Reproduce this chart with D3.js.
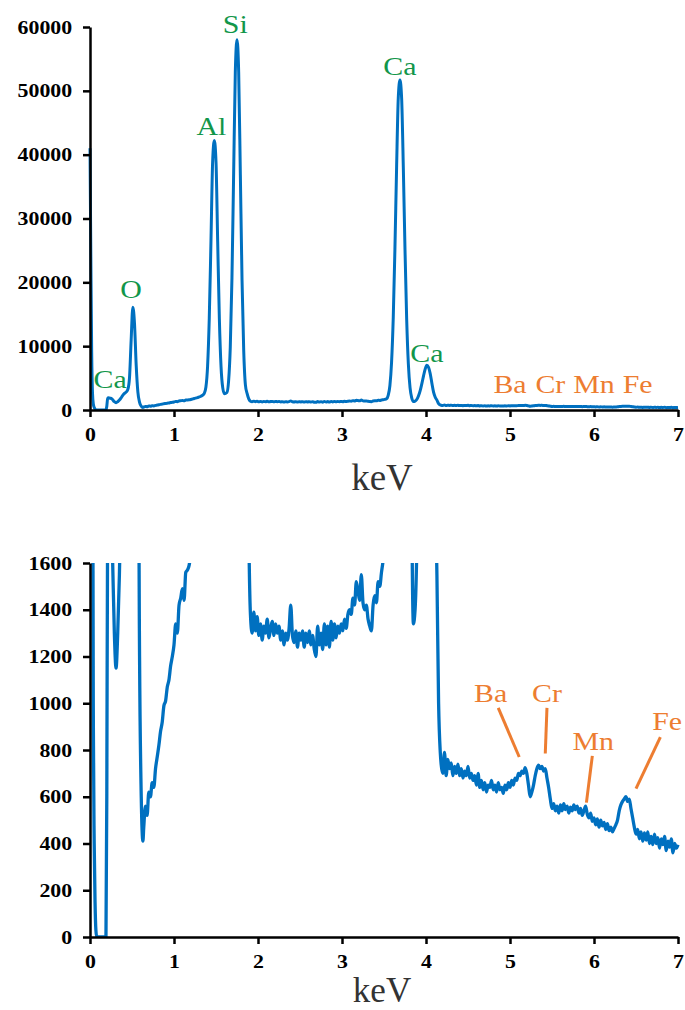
<!DOCTYPE html>
<html>
<head>
<meta charset="utf-8">
<script src="https://cdn.jsdelivr.net/npm/d3@7"></script>
<style>
  body { margin: 0; background: #fff; }
  svg { display: block; }
</style>
</head>
<body>
<div id="chart"></div>
<script>
// EDS spectrum: [keV, counts]
var lowEnergy = [
  [0,41000],[0.01,24000],[0.02,9000],[0.03,2600],[0.04,900],[0.05,400],[0.06,150],[0.07,30],
  [0.08,0],[0.12,0],[0.16,0],[0.19,0],[0.20,600],[0.21,1800],[0.22,1900],[0.24,1850],[0.26,1750],
  [0.27,1600],[0.29,1300],[0.31,1150],[0.33,1300],[0.35,1550],[0.37,1900],[0.39,2300],[0.41,2600],
  [0.43,2800],[0.45,3200],[0.47,5000],[0.49,11000],[0.51,16100],[0.53,13500],[0.55,7000],[0.57,2800],
  [0.59,1200],[0.61,600],[0.63,410],[0.64,470],[0.66,560],[0.68,520],[0.70,620],[0.72,600],
  [0.74,660],[0.76,640],[0.78,720],[0.80,770],[0.82,820],[0.84,880],[0.86,920],[0.88,990],
  [0.90,1010],[0.92,1070],[0.94,1100],[0.96,1160],[0.98,1200],[1.00,1250],[1.02,1340],[1.04,1300],
  [1.06,1420],[1.08,1450],[1.10,1490],[1.12,1440],[1.14,1560],[1.16,1570],[1.18,1590]
];

var alSiPeaks = [
  [1.20,1640],[1.24,1800],[1.28,1950],[1.32,2150],[1.36,2600],[1.38,3600],[1.40,6900],[1.42,14400],
  [1.44,26400],[1.46,38900],[1.48,42200],[1.50,38900],[1.52,26400],[1.54,14300],[1.56,6800],
  [1.58,3500],[1.60,2550],[1.63,2740],[1.65,4550],[1.67,9850],[1.69,20700],[1.71,37000],[1.73,53000],
  [1.75,58000],[1.77,52900],[1.79,36800],[1.81,20300],[1.83,9300],[1.85,3950],[1.87,2600],
  [1.89,1750],[1.91,1380]
];

var midBackground = [
  [1.93,1300],[1.95,1390],[1.97,1310],[1.99,1370],[2.01,1290],[2.03,1340],[2.05,1270],[2.07,1330],
  [2.09,1300],[2.11,1360],[2.13,1280],[2.15,1320],[2.17,1350],[2.19,1290],[2.21,1340],[2.23,1300],
  [2.25,1330],[2.27,1270],[2.29,1310],[2.31,1250],[2.33,1300],[2.35,1270],[2.37,1320],[2.39,1420],
  [2.41,1290],[2.43,1260],[2.45,1310],[2.47,1240],[2.49,1300],[2.51,1270],[2.53,1310],[2.55,1240],
  [2.57,1300],[2.59,1260],[2.61,1310],[2.63,1250],[2.65,1290],[2.67,1230],[2.69,1200],[2.71,1330],
  [2.73,1250],[2.75,1300],[2.77,1230],[2.79,1340],[2.81,1250],[2.83,1330],[2.85,1240],[2.87,1350],
  [2.89,1270],[2.91,1340],[2.93,1280],[2.95,1330],[2.97,1300],[2.99,1340],[3.01,1310],[3.03,1360],
  [3.05,1320],[3.07,1380],[3.09,1400],[3.11,1380],[3.13,1450],[3.15,1420],[3.17,1520],[3.19,1480],
  [3.21,1440],[3.23,1550],[3.25,1430],[3.27,1400],[3.29,1420],[3.31,1360],[3.33,1330],[3.35,1310],
  [3.37,1420],[3.39,1460],[3.41,1430],[3.43,1520],[3.45,1500],[3.47,1560],[3.49,1610]
];

var caPeaks = [
  [3.51,1660],[3.53,1750],[3.55,2300],[3.57,3800],[3.59,7450],[3.61,14400],[3.63,25200],[3.65,38000],
  [3.67,48900],[3.69,51700],[3.71,48800],[3.73,38000],[3.75,25100],[3.77,14200],[3.79,7200],
  [3.81,3500],[3.83,1900],[3.85,1340],[3.87,1400],[3.89,1650],[3.91,2200],[3.93,3000],[3.95,4100],
  [3.97,5300],[3.99,6400],[4.01,7000],[4.03,6700],[4.05,5700],[4.07,4200],[4.09,2800],[4.11,2000],
  [4.13,1550],[4.15,1000],[4.17,790]
];

var highEnergy = [
  [4.18,740],[4.20,700],[4.22,790],[4.24,690],[4.26,760],[4.28,720],[4.30,745],[4.32,690],
  [4.34,730],[4.36,700],[4.38,740],[4.40,690],[4.42,720],[4.44,680],[4.46,710],[4.48,690],
  [4.50,730],[4.52,680],[4.54,700],[4.56,670],[4.58,690],[4.60,650],[4.62,700],[4.64,640],
  [4.66,670],[4.68,630],[4.70,660],[4.72,620],[4.74,650],[4.76,640],[4.78,670],[4.80,630],
  [4.82,650],[4.84,620],[4.86,660],[4.88,630],[4.90,640],[4.92,615],[4.94,650],[4.96,630],
  [4.98,660],[5.00,640],[5.02,670],[5.04,650],[5.06,680],[5.08,670],[5.10,700],[5.12,690],
  [5.14,710],[5.16,700],[5.18,725],[5.20,700],[5.22,650],[5.24,600],[5.26,620],[5.28,650],
  [5.30,690],[5.32,720],[5.34,735],[5.36,720],[5.38,730],[5.40,710],[5.42,720],[5.44,680],
  [5.46,640],[5.48,590],[5.50,550],[5.52,570],[5.54,540],[5.56,560],[5.58,530],[5.60,565],
  [5.62,540],[5.64,570],[5.66,545],[5.68,560],[5.70,530],[5.72,555],[5.74,540],[5.76,565],
  [5.78,545],[5.80,560],[5.82,530],[5.84,550],[5.86,520],[5.88,540],[5.90,560],[5.92,525],
  [5.94,510],[5.96,530],[5.98,495],[6.00,510],[6.02,480],[6.04,505],[6.06,470],[6.08,500],
  [6.10,475],[6.12,490],[6.14,460],[6.16,485],[6.18,455],[6.20,470],[6.22,450],[6.24,465],
  [6.26,480],[6.28,500],[6.30,540],[6.32,565],[6.34,580],[6.36,590],[6.38,600],[6.40,580],
  [6.42,590],[6.44,550],[6.46,510],[6.48,470],[6.50,440],[6.52,460],[6.54,420],[6.56,450],
  [6.58,410],[6.60,445],[6.62,415],[6.64,450],[6.66,400],[6.68,430],[6.70,395],[6.72,440],
  [6.74,400],[6.76,425],[6.78,380],[6.80,420],[6.82,395],[6.84,430],[6.86,370],[6.88,410],
  [6.90,385],[6.92,420],[6.94,360],[6.96,400],[6.98,380],[7.00,395]
];

var spectrum = lowEnergy.concat(alSiPeaks, midBackground, caPeaks, highEnergy);

var xTicks = [0, 1, 2, 3, 4, 5, 6, 7];
var yTicksFull = [0, 10000, 20000, 30000, 40000, 50000, 60000];
var yTicksZoom = [0, 200, 400, 600, 800, 1000, 1200, 1400, 1600];

// element labels: text anchor in data units (keV, counts)
var fullLabels = [
  { name: "Ca", kev: 0.24, counts: 3450, kind: "major" },
  { name: "O",  kev: 0.49, counts: 17550, kind: "major" },
  { name: "Al", kev: 1.445, counts: 43100, kind: "major" },
  { name: "Si", kev: 1.73, counts: 59000, kind: "major" },
  { name: "Ca", kev: 3.69, counts: 52500, kind: "major" },
  { name: "Ca", kev: 4.01, counts: 7500, kind: "major" },
  { name: "Ba", kev: 5.0, counts: 2650, kind: "trace" },
  { name: "Cr", kev: 5.48, counts: 2650, kind: "trace" },
  { name: "Mn", kev: 6.0, counts: 2650, kind: "trace" },
  { name: "Fe", kev: 6.52, counts: 2650, kind: "trace" }
];

var zoomLabels = [
  { name: "Ba", kev: 4.77, counts: 1005 },
  { name: "Cr", kev: 5.44, counts: 1005 },
  { name: "Mn", kev: 5.99, counts: 800 },
  { name: "Fe", kev: 6.87, counts: 886 }
];

// leader lines: [keV, counts] from label to peak
var zoomLeaders = [
  [[4.86, 980], [5.11, 770]],
  [[5.44, 980], [5.42, 785]],
  [[5.98, 775], [5.91, 575]],
  [[6.79, 855], [6.50, 635]]
];

var blue = "#0070C0", green = "#12964A", orange = "#ED7D31";
var W = 685, H = 1010;

var svg = d3.select("#chart").append("svg")
    .attr("width", W)
    .attr("height", H)
    .style("background", "#fff");

function drawPanel(opt) {
  var x = d3.scaleLinear().domain([0, 7]).range([90, 678]);
  var y = d3.scaleLinear().domain(opt.yDomain).range([opt.bottom, opt.top]);
  var g = svg.append("g");

  var clipId = "clip" + opt.id;
  g.append("clipPath").attr("id", clipId)
    .append("rect")
    .attr("x", 88).attr("y", opt.top)
    .attr("width", 592).attr("height", opt.bottom - opt.top);

  var line = d3.line()
      .x(function (d) { return x(d[0]); })
      .y(function (d) { return y(d[1]); })
      .curve(d3.curveMonotoneX);

  g.append("path")
    .datum(spectrum)
    .attr("clip-path", "url(#" + clipId + ")")
    .attr("fill", "none")
    .attr("stroke", blue)
    .attr("stroke-width", opt.lineWidth)
    .attr("stroke-linejoin", "round")
    .attr("d", line);

  var yAxis = d3.axisLeft(y).tickValues(opt.yTicks).tickFormat(d3.format("d"))
      .tickSize(7).tickSizeOuter(0).tickPadding(8.5);
  var xAxis = d3.axisBottom(x).tickValues(xTicks).tickFormat(d3.format("d"))
      .tickSize(7).tickSizeOuter(0).tickPadding(11);

  var ya = g.append("g").attr("transform", "translate(90,0)").call(yAxis);
  var xa = g.append("g").attr("transform", "translate(0," + opt.bottom + ")").call(xAxis);

  [ya, xa].forEach(function (a) {
    a.selectAll("path, line").attr("stroke", "#000").attr("stroke-width", 2.5);
    a.selectAll("text")
      .attr("fill", "#000")
      .attr("transform", "scale(1.15,1)")
      .style("font-family", "'Liberation Serif', 'Times New Roman', serif")
      .style("font-weight", "bold")
      .style("font-size", "19px");
  });

  g.append("text")
    .attr("x", 382).attr("y", opt.titleY)
    .attr("text-anchor", "middle")
    .attr("fill", "#333")
    .style("font-family", "'Liberation Serif', 'Times New Roman', serif")
    .style("font-size", opt.titleSize + "px")
    .text("keV");

  return { g: g, x: x, y: y };
}

function addLabel(p, d, color) {
  p.g.append("text")
    .attr("transform", "translate(" + p.x(d.kev) + "," + p.y(d.counts) + ") scale(1.15,1)")
    .attr("text-anchor", "middle")
    .attr("fill", color)
    .style("font-family", "'Liberation Serif', 'Times New Roman', serif")
    .style("font-size", "26px")
    .text(d.name);
}

var full = drawPanel({ id: 1, top: 27, bottom: 410, yDomain: [0, 60000], yTicks: yTicksFull,
                       titleY: 490, titleSize: 37, lineWidth: 3 });
fullLabels.forEach(function (d) { addLabel(full, d, d.kind === "major" ? green : orange); });

var zoom = drawPanel({ id: 2, top: 563, bottom: 937, yDomain: [0, 1600], yTicks: yTicksZoom,
                       titleY: 1002, titleSize: 35, lineWidth: 3.3 });
zoomLabels.forEach(function (d) { addLabel(zoom, d, orange); });

zoom.g.selectAll(".leader")
  .data(zoomLeaders)
  .enter().append("line")
  .attr("class", "leader")
  .attr("x1", function (d) { return zoom.x(d[0][0]); })
  .attr("y1", function (d) { return zoom.y(d[0][1]); })
  .attr("x2", function (d) { return zoom.x(d[1][0]); })
  .attr("y2", function (d) { return zoom.y(d[1][1]); })
  .attr("stroke", orange)
  .attr("stroke-width", 3);
</script>
</body>
</html>
